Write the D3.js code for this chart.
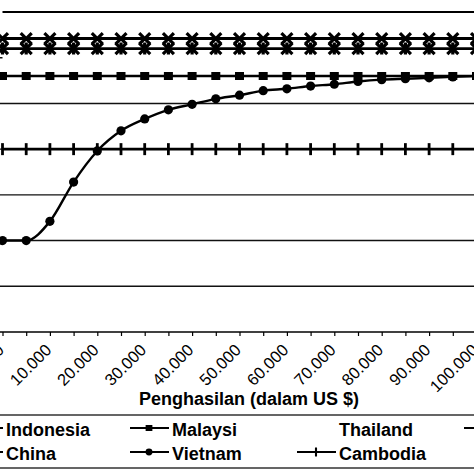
<!DOCTYPE html>
<html>
<head>
<meta charset="utf-8">
<script src="https://cdn.jsdelivr.net/npm/d3@7"></script>
<style>
  body { margin: 0; background: #fff; }
  svg { display: block; font-family: "Liberation Sans", Arial, sans-serif; }
</style>
</head>
<body>
<svg id="chart"></svg>
<script>
// categories along the x axis (income in US $)
const categories = ["0", "5.000", "10.000", "15.000", "20.000", "25.000", "30.000",
  "35.000", "40.000", "45.000", "50.000", "55.000", "60.000", "65.000", "70.000",
  "75.000", "80.000", "85.000", "90.000", "95.000", "100.000"];
// only every second label is shown
const tickLabels = ["0", "10.000", "20.000", "30.000", "40.000", "50.000",
  "60.000", "70.000", "80.000", "90.000", "100.000"];

const indonesia = categories.map(() => 35);
const malaysia = categories.map(() => 28);
const thailand = categories.map(() => 30);
const series4 = categories.map(() => 32.1);
const china = categories.map(() => 31);
const vietnam = [10, 10, 12.1, 16.4, 19.8, 22.0, 23.3, 24.3, 24.9, 25.5, 25.9,
  26.4, 26.6, 26.9, 27.1, 27.4, 27.6, 27.7, 27.8, 27.9, 28.0];
const cambodia = categories.map(() => 20);

const gridValues = [5, 10, 15, 20, 25, 30];

// legend order as in the original (row by row)
const legendNames = ["Indonesia", "Malaysi", "Thailand", "", "China", "Vietnam", "Cambodia"];

const w = 474;
const h = 474;

const svg = d3.select("#chart").attr("width", w).attr("height", h);

const x = d3.scalePoint().domain(categories).range([2.5, 476.5]);
const y = d3.scaleLinear().domain([0, 35]).range([332, 12]);

// gridlines
svg.append("g")
  .selectAll("line")
  .data(gridValues)
  .enter()
  .append("line")
  .attr("x1", -20)
  .attr("x2", w + 20)
  .attr("y1", d => y(d))
  .attr("y2", d => y(d))
  .attr("stroke", "#111")
  .attr("stroke-width", 1.4);

// x axis
const xAxis = d3.axisBottom(x)
  .tickSize(4)
  .tickFormat(d => (tickLabels.includes(d) ? d : ""));

const axisG = svg.append("g")
  .attr("transform", `translate(0,${y(0)})`)
  .call(xAxis);
axisG.select(".domain").attr("d", `M-20,0H${w + 20}`).attr("stroke", "#000").attr("stroke-width", 1.6);
axisG.selectAll(".tick line").attr("stroke", "#000").attr("stroke-width", 1.2);
axisG.selectAll(".tick text")
  .attr("fill", "#000")
  .style("font-size", "16.5px")
  .attr("text-anchor", "end")
  .attr("y", 0)
  .attr("dy", 0)
  .attr("transform", "translate(2,19) rotate(-45)");

svg.append("text")
  .attr("x", 249)
  .attr("y", 405)
  .attr("text-anchor", "middle")
  .style("font-size", "18px")
  .style("font-weight", "bold")
  .text("Penghasilan (dalam US $)");

// markers
const markers = {
  none: () => {},
  square: (g) => g.append("rect").attr("x", -4.5).attr("y", -4).attr("width", 9).attr("height", 8).attr("fill", "#000"),
  circle: (g) => g.append("circle").attr("r", 4.6).attr("fill", "#000"),
  plus: (g) => g.append("line").attr("y1", -6).attr("y2", 6).attr("stroke", "#000").attr("stroke-width", 2.8),
  cross: (g) => g.append("path").attr("d", "M-5.5,-5.5L5.5,5.5M-5.5,5.5L5.5,-5.5").attr("stroke", "#000").attr("stroke-width", 3.2),
  star: (g) => g.append("path").attr("d", "M-5.5,-5.5L5.5,5.5M-5.5,5.5L5.5,-5.5M0,-6V6").attr("stroke", "#000").attr("stroke-width", 3.2)
};

const series = [
  { name: legendNames[0], values: indonesia, color: "#000", width: 1.8, marker: "none" },
  { name: legendNames[1], values: malaysia, color: "#000", width: 2.6, marker: "square" },
  { name: legendNames[2], values: thailand, color: "#fff", width: 3, marker: "none" },
  { name: legendNames[3], values: series4, color: "#000", width: 2.8, marker: "cross" },
  { name: legendNames[4], values: china, color: "#000", width: 2.8, marker: "star" },
  { name: legendNames[5], values: vietnam, color: "#000", width: 2.4, marker: "circle" },
  { name: legendNames[6], values: cambodia, color: "#000", width: 2.6, marker: "plus" }
];

const line = d3.line()
  .x((d, i) => x(categories[i]))
  .y(d => y(d))
  .curve(d3.curveMonotoneX);

series.forEach(s => {
  svg.append("path")
    .datum(s.values)
    .attr("d", line)
    .attr("fill", "none")
    .attr("stroke", s.color)
    .attr("stroke-width", s.width);

  svg.append("g")
    .selectAll("g")
    .data(s.values)
    .enter()
    .append("g")
    .attr("transform", (d, i) => `translate(${x(categories[i])},${y(d)})`)
    .each(function () { markers[s.marker](d3.select(this)); });
});

// legend
const legend = svg.append("g");
legend.append("rect")
  .attr("x", -20)
  .attr("y", 415)
  .attr("width", w + 40)
  .attr("height", 53)
  .attr("fill", "none")
  .attr("stroke", "#333")
  .attr("stroke-width", 1.5);

const colX = [6, 172, 339, 506];
const rowY = [428, 452];

series.forEach((s, i) => {
  const tx = colX[i % 4];
  const ty = rowY[Math.floor(i / 4)];
  legend.append("line")
    .attr("x1", tx - 42)
    .attr("x2", tx - 3)
    .attr("y1", ty)
    .attr("y2", ty)
    .attr("stroke", s.color)
    .attr("stroke-width", 1.8);
  const m = legend.append("g").attr("transform", `translate(${tx - 23},${ty}) scale(0.75)`);
  markers[s.marker](m);
  if (s.name) {
    legend.append("text")
      .attr("x", tx)
      .attr("y", ty + 7.5)
      .style("font-size", "18px")
      .style("font-weight", "bold")
      .text(s.name);
  }
});
</script>
</body>
</html>
